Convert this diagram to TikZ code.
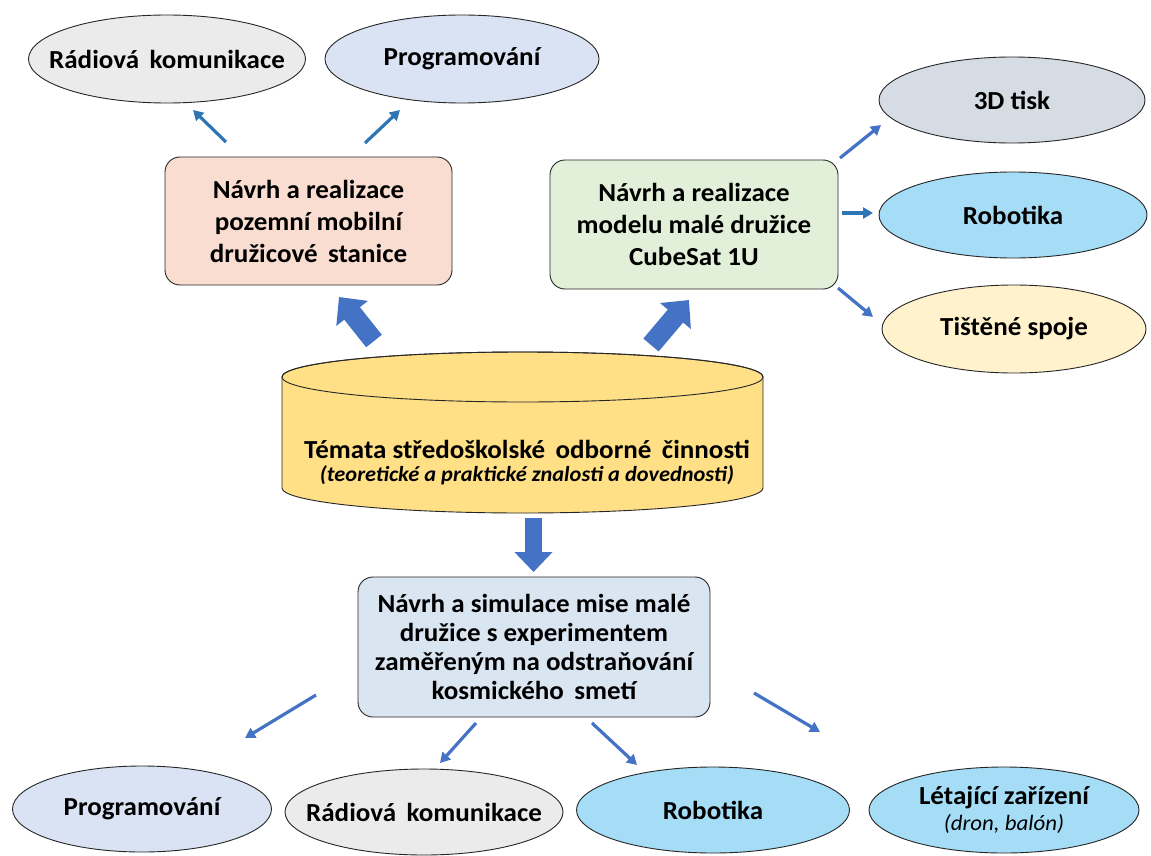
\documentclass[tikz,border=0pt]{standalone}
\usepackage{fontspec}
\setmainfont{Carlito}[FakeStretch=1.04]
\usetikzlibrary{arrows.meta,shapes.geometric}

\definecolor{radiofill}{HTML}{EBEBEB}
\definecolor{progfill}{HTML}{DAE3F3}
\definecolor{tiskfill}{HTML}{D6DCE4}
\definecolor{robofill}{HTML}{A5DCF6}
\definecolor{spojefill}{HTML}{FFF2CC}
\definecolor{stanicefill}{HTML}{F9DDD0}
\definecolor{cubefill}{HTML}{E2F0D9}
\definecolor{cylfill}{HTML}{FFE087}
\definecolor{misefill}{HTML}{DAE5F2}
\definecolor{bigblue}{HTML}{4472C4}
\definecolor{midblue}{HTML}{2E75B6}
\definecolor{edge}{HTML}{262626}

\tikzset{
  label font/.style={font=\bfseries\fontsize{26}{32}\selectfont},
  topic/.style={ellipse, draw=edge, line width=0.9pt, inner sep=0pt},
  topic text/.style={label font, align=center, inner sep=0pt},
  project/.style={draw=edge, line width=0.9pt, rounded corners=15pt,
    inner sep=0pt, label font, align=center},
  thin arrow/.style={line width=3.2pt, -{Triangle[width=11pt,length=10pt]}},
  fat arrow/.style={bigblue, line width=20pt, -{Triangle[width=39pt,length=21pt]}},
}

\begin{document}
\begin{tikzpicture}[x=1pt, y=-1pt]
  \useasboundingbox (0,0) rectangle (1151,856);
  \fill[white] (0,0) rectangle (1151,856);

  % central cylinder
  \path[fill=cylfill, draw=edge, line width=0.9pt]
    (282,377) -- (282,488)
    arc[start angle=180, end angle=0, x radius=240.5, y radius=25]
    -- (763,377)
    arc[start angle=360, end angle=180, x radius=240.5, y radius=25] -- cycle;
  \draw[edge, line width=0.9pt] (522.5,377) ellipse[x radius=240.5, y radius=25];
  \node[align=center, font=\bfseries\fontsize{26}{25}\selectfont] (core) at (527,463)
    {Témata středoškolské \,odborné \,činnosti\\[-2pt]
     {\itshape\fontsize{21.5}{23}\selectfont (teoretické a praktické znalosti a dovednosti)}};

  % project boxes
  \node[project, fill=stanicefill, minimum width=287pt, minimum height=128pt]
    (stanice) at (308.5,221) {Návrh a realizace\\pozemní mobilní\\družicové \,stanice};
  \node[project, fill=cubefill, minimum width=288pt, minimum height=129pt]
    (cubesat) at (694,224.5) {Návrh a realizace\\modelu malé družice\\CubeSat 1U};
  \node[project, fill=misefill, minimum width=352pt, minimum height=140pt,
    font=\bfseries\fontsize{26}{29}\selectfont]
    (mise) at (534,647) {Návrh a simulace mise malé\\družice s experimentem\\zaměřeným na odstraňování\\kosmického \,smetí};

  % topics, upper left
  \node[topic, fill=radiofill, minimum width=277pt, minimum height=88pt,
    label={[topic text]center:Rádiová \,komunikace}] (radioA) at (167,59) {};
  \node[topic, fill=progfill, minimum width=274pt, minimum height=88pt,
    label={[topic text]center:Programování}] (progA) at (462,59) {};

  % topics, right
  \node[topic, fill=tiskfill, minimum width=266pt, minimum height=86pt,
    label={[topic text]center:3D tisk}] (tisk) at (1012,100) {};
  \node[topic, fill=robofill, minimum width=268pt, minimum height=86pt,
    label={[topic text]center:Robotika}] (roboA) at (1013,215) {};
  \node[topic, fill=spojefill, minimum width=264pt, minimum height=88pt,
    label={[topic text]center:Tištěné spoje}] (spoje) at (1014,329) {};

  % topics, bottom row
  \node[topic, fill=progfill, minimum width=259pt, minimum height=86pt,
    label={[topic text]center:Programování}] (progB) at (142,809) {};
  \node[topic, fill=radiofill, minimum width=278pt, minimum height=86pt,
    label={[topic text]center:Rádiová \,komunikace}] (radioB) at (424,812) {};
  \node[topic, fill=robofill, minimum width=273pt, minimum height=86pt,
    label={[topic text]center:Robotika}] (roboB) at (713,810) {};
  \node[topic, fill=robofill, minimum width=270pt, minimum height=86pt,
    label={[topic text]center:{Létající zařízení\\[-6pt]{\mdseries\itshape\fontsize{22}{24}\selectfont (dron, balón)}}}]
    (letani) at (1004,810) {};

  % arrow end points
  \coordinate (s1) at (226,142); \coordinate (e1) at (193,110);
  \coordinate (s2) at (365,143); \coordinate (e2) at (400,110);
  \coordinate (s3) at (840,158); \coordinate (e3) at (881,125);
  \coordinate (s4) at (842,213); \coordinate (e4) at (873,213);
  \coordinate (s5) at (838,288); \coordinate (e5) at (873,317);
  \coordinate (fl) at (374,341); \coordinate (tl) at (339,297);
  \coordinate (fr) at (651,345); \coordinate (tr) at (689,300);
  \coordinate (fd) at (533.5,518); \coordinate (td) at (533.5,572);
  \coordinate (s6) at (316,695); \coordinate (e6) at (245,738);
  \coordinate (s7) at (476,723); \coordinate (e7) at (440,763);
  \coordinate (s8) at (592,723); \coordinate (e8) at (637,765);
  \coordinate (s9) at (754,693); \coordinate (e9) at (820,732);

  % arrows
  \draw[thin arrow, midblue] (s1) -- (e1);
  \draw[thin arrow, midblue] (s2) -- (e2);
  \draw[thin arrow, bigblue] (s3) -- (e3);
  \draw[thin arrow, midblue] (s4) -- (e4);
  \draw[thin arrow, bigblue] (s5) -- (e5);
  \draw[fat arrow] (fl) -- (tl);
  \draw[fat arrow] (fr) -- (tr);
  \draw[fat arrow, line width=17pt, -{Triangle[width=37pt,length=20pt]}] (fd) -- (td);
  \draw[thin arrow, bigblue] (s6) -- (e6);
  \draw[thin arrow, bigblue] (s7) -- (e7);
  \draw[thin arrow, bigblue] (s8) -- (e8);
  \draw[thin arrow, bigblue] (s9) -- (e9);
\end{tikzpicture}
\end{document}
